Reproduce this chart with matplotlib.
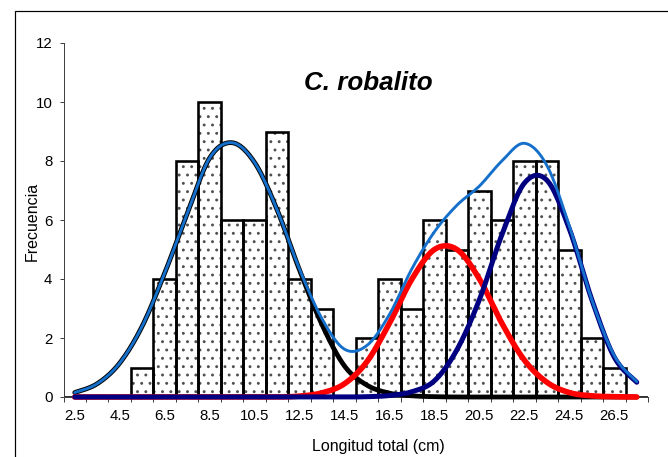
import numpy as np
import matplotlib
matplotlib.use("Agg")
import matplotlib.pyplot as plt
from matplotlib.patches import Rectangle

# ---------------- data ----------------
categories = [2.5, 3.5, 4.5, 5.5, 6.5, 7.5, 8.5, 9.5, 10.5, 11.5, 12.5, 13.5, 14.5,
              15.5, 16.5, 17.5, 18.5, 19.5, 20.5, 21.5, 22.5, 23.5, 24.5, 25.5, 26.5, 27.5]
frequency = [0, 0, 0, 1, 4, 8, 10, 6, 6, 9, 4, 3, 0,
             2, 4, 3, 6, 5, 7, 6, 8, 8, 5, 2, 1, 0]
cohort1 = [0.15, 0.45, 1.15, 2.4, 4.2, 6.2, 8.1, 8.62, 7.95, 6.35, 4.3, 2.45, 1.05,
           0.4, 0.13, 0.04, 0.01, 0, 0, 0, 0, 0, 0, 0, 0, 0]
cohort2 = [0, 0, 0, 0, 0, 0, 0, 0, 0, 0, 0.03, 0.14, 0.45,
           1.2, 2.5, 4.0, 5.0, 5.0, 4.0, 2.5, 1.25, 0.5, 0.15, 0.04, 0.01, 0]
cohort3 = [0, 0, 0, 0, 0, 0, 0, 0, 0, 0, 0, 0, 0,
           0.01, 0.05, 0.18, 0.55, 1.6, 3.3, 5.5, 7.25, 7.35, 5.7, 3.3, 1.35, 0.5]
total = [0.15, 0.45, 1.15, 2.4, 4.2, 6.2, 8.1, 8.62, 7.95, 6.35, 4.33, 2.65, 1.62,
         1.75, 2.8, 4.35, 5.6, 6.5, 7.15, 8.0, 8.6, 7.85, 5.8, 3.3, 1.4, 0.52]
xtick_labels = ["2.5", "4.5", "6.5", "8.5", "10.5", "12.5", "14.5",
                "16.5", "18.5", "20.5", "22.5", "24.5", "26.5"]
ytick_values = [0, 2, 4, 6, 8, 10, 12]
title_text = "C. robalito"
xlabel_text = "Longitud total (cm)"
ylabel_text = "Frecuencia"

# ---------------- helpers ----------------
W, H, DPI = 668, 457, 100
def pt(px):
    return px * 72.0 / DPI

def smooth(xs, ys, n=24):
    """Excel-style smoothed line (cubic Bezier through the points)."""
    p = np.column_stack([xs, ys]).astype(float)
    segs = []
    m = len(p)
    for i in range(m - 1):
        p0 = p[i - 1] if i > 0 else p[i]
        p1, p2 = p[i], p[i + 1]
        p3 = p[i + 2] if i + 2 < m else p[i + 1]
        c1 = p1 + (p2 - p0) / 6.0
        c2 = p2 - (p3 - p1) / 6.0
        t = np.linspace(0, 1, n, endpoint=(i == m - 2))[:, None]
        b = ((1 - t) ** 3) * p1 + 3 * ((1 - t) ** 2) * t * c1 + 3 * (1 - t) * t ** 2 * c2 + t ** 3 * p2
        segs.append(b)
    s = np.vstack(segs)
    return s[:, 0], s[:, 1]

plt.rcParams['font.family'] = ['Liberation Sans', 'DejaVu Sans']
plt.rcParams['hatch.linewidth'] = 0.9

fig = plt.figure(figsize=(W / DPI, H / DPI), dpi=DPI)
fig.patch.set_facecolor('white')

# chart-area border (cut by image edge on right and bottom)
fig.add_artist(Rectangle((15 / W, -0.2), 2.0, 1.2 - 11 / H, transform=fig.transFigure,
                         fill=False, edgecolor='black', linewidth=pt(1.2)))

x0, x1 = 63.5, 648.0
y0, y1 = 397.0, 43.0
ax = fig.add_axes([x0 / W, 1 - y0 / H, (x1 - x0) / W, (y0 - y1) / H])
ax.set_facecolor('none')

# bars: dotted fill then black outline
ax.bar(categories, frequency, width=1.0, color='white', edgecolor='#505050',
       linewidth=0, hatch='..', zorder=1)
ax.bar(categories, frequency, width=1.0, fill=False, edgecolor='black',
       linewidth=pt(2.6), zorder=2)

# fitted components and total
for vals, col, lw, z in [(cohort1, 'black', 4.8, 3),
                         (cohort2, '#ff0000', 5.6, 4),
                         (cohort3, '#000080', 5.0, 5),
                         (total, '#1570cc', 2.9, 6)]:
    sx, sy = smooth(categories, vals)
    ax.plot(sx, sy, color=col, linewidth=pt(lw), solid_capstyle='round',
            solid_joinstyle='round', zorder=z, clip_on=False)

ax.set_xlim(2.0, 28.0)
ax.set_ylim(0, 12)

# axes styling
for s in ['top', 'right']:
    ax.spines[s].set_visible(False)
for s in ['left', 'bottom']:
    ax.spines[s].set_color('#404040')
    ax.spines[s].set_linewidth(pt(1.0))

ax.set_yticks(ytick_values)
ax.set_yticklabels([str(v) for v in ytick_values])
ax.tick_params(axis='y', direction='out', length=pt(4.5), width=pt(1.0), color='#404040',
               pad=pt(6.5), labelsize=pt(15), labelcolor='black')

ax.set_xticks(np.arange(2.0, 28.5, 1.0))
ax.set_xticklabels([])
ax.set_xticks([float(v) for v in xtick_labels], minor=True)
ax.set_xticklabels(xtick_labels, minor=True)
ax.tick_params(axis='x', which='major', direction='out', length=pt(5), width=pt(1.0),
               color='#404040')
ax.tick_params(axis='x', which='minor', length=0, pad=pt(11.5), labelsize=pt(15),
               labelcolor='black')

ax.set_xlabel(xlabel_text, fontsize=pt(16))
ax.xaxis.set_label_coords((378 - x0) / (x1 - x0), (y0 - 439.5) / (y0 - y1))
ax.set_ylabel(ylabel_text, fontsize=pt(16))
ax.yaxis.set_label_coords((40 - x0) / (x1 - x0), (y0 - 221) / (y0 - y1))

fig.text(368.5 / W, 1 - 90.5 / H, title_text, ha='center', va='baseline',
         fontsize=pt(26), fontweight='bold', fontstyle='italic')

fig.savefig('out.png', dpi=DPI, facecolor='white')
